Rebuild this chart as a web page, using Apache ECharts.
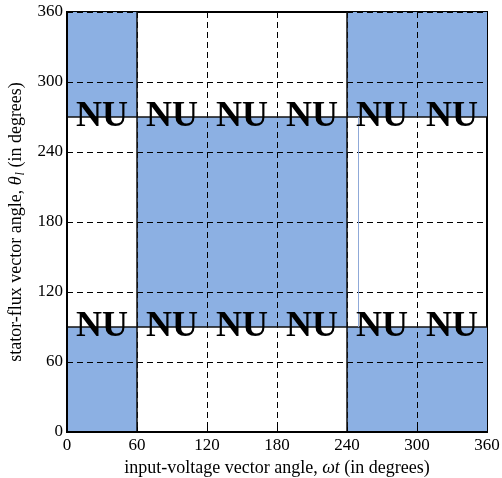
<!DOCTYPE html>
<html>
<head>
<meta charset="utf-8">
<script src="https://cdn.jsdelivr.net/npm/echarts@6/dist/echarts.min.js"></script>
<style>
  html, body { margin: 0; padding: 0; background: #fff; }
  #chart { width: 502px; height: 478px; }
</style>
</head>
<body>
<div id="chart"></div>
<script>
// Axis ticks (degrees)
const xTicks = [0, 60, 120, 180, 240, 300, 360];
const yTicks = [0, 60, 120, 180, 240, 300, 360];

// Shaded regions: [x0, x1, y0, y1] in degrees
const shadedRegions = [
  [0, 60, 0, 90],
  [0, 60, 270, 360],
  [60, 240, 90, 270],
  [240, 360, 0, 90],
  [240, 360, 270, 360]
];

// Region boundary lines
const boundaryX = [60, 240];
const boundaryY = [90, 270];

// Thin guide segment: [x, y0, y1]
const guideSegment = [250, 90, 270];

// "NU" label positions
const nuX = [30, 90, 150, 210, 270, 330];
const nuY = [90, 270];

const serif = '"Liberation Serif", "Times New Roman", serif';
const blue = '#8cb0e3';

const nuPoints = [];
nuY.forEach(y => nuX.forEach(x => nuPoints.push([x, y])));

const chart = echarts.init(document.getElementById('chart'), null, { renderer: 'canvas' });

chart.setOption({
  animation: false,
  backgroundColor: '#fff',
  grid: {
    left: 67, top: 12, width: 420, height: 420,
    containLabel: false, outerBoundsMode: 'none',
    show: true, borderColor: '#000', borderWidth: 2, backgroundColor: 'transparent'
  },
  xAxis: {
    type: 'value', min: xTicks[0], max: xTicks[xTicks.length - 1], interval: 60, z: 5,
    name: 'input-voltage vector angle, {i|ωt} (in degrees)',
    nameLocation: 'middle', nameGap: 27,
    nameTextStyle: {
      fontFamily: serif, fontSize: 18, color: '#000',
      rich: { i: { fontFamily: serif, fontSize: 18, fontStyle: 'italic', color: '#000' } }
    },
    axisLine: { show: true, lineStyle: { color: '#000', width: 2 } },
    axisTick: { show: true, inside: true, length: 5, lineStyle: { color: '#000' } },
    axisLabel: { fontFamily: serif, fontSize: 17, color: '#000', margin: 5 },
    splitLine: { show: true, lineStyle: { color: '#000', width: 1, type: [6, 4] } }
  },
  yAxis: {
    type: 'value', min: yTicks[0], max: yTicks[yTicks.length - 1], interval: 60, z: 5,
    name: 'stator-flux vector angle, {i|θ}{s|l} (in degrees)',
    nameLocation: 'middle', nameGap: 40,
    nameTextStyle: {
      fontFamily: serif, fontSize: 18, color: '#000',
      rich: {
        i: { fontFamily: serif, fontSize: 18, fontStyle: 'italic', color: '#000' },
        s: { fontFamily: serif, fontSize: 12, fontStyle: 'italic', color: '#000', padding: [8, 0, 0, 1] }
      }
    },
    axisLine: { show: true, lineStyle: { color: '#000', width: 2 } },
    axisTick: { show: true, inside: true, length: 5, lineStyle: { color: '#000' } },
    axisLabel: { fontFamily: serif, fontSize: 17, color: '#000', margin: 4 },
    splitLine: { show: true, lineStyle: { color: '#000', width: 1, type: [6, 4] } }
  },
  series: [
    {
      type: 'line', data: [], z: 1, silent: true,
      markArea: {
        silent: true,
        itemStyle: { color: blue, borderWidth: 0, opacity: 1 },
        data: shadedRegions.map(r => [{ xAxis: r[0], yAxis: r[2] }, { xAxis: r[1], yAxis: r[3] }])
      }
    },
    {
      type: 'line', data: [], z: 6, silent: true,
      markLine: {
        silent: true, symbol: 'none', label: { show: false },
        lineStyle: { color: '#111', width: 1.5, type: 'solid', opacity: 1 },
        data: [
          ...boundaryX.map(x => ({ xAxis: x })),
          ...boundaryY.map(y => ({ yAxis: y })),
          [
            { coord: [guideSegment[0], guideSegment[1]], lineStyle: { color: '#8fa9d8', width: 1 } },
            { coord: [guideSegment[0], guideSegment[2]] }
          ]
        ]
      }
    },
    {
      type: 'scatter', z: 10, silent: true,
      symbolSize: 0,
      itemStyle: { opacity: 1 },
      data: nuPoints,
      label: {
        show: true, position: 'inside', formatter: 'NU',
        fontFamily: serif, fontWeight: 'bold', fontSize: 36, color: '#000'
      }
    }
  ]
});
</script>
</body>
</html>
